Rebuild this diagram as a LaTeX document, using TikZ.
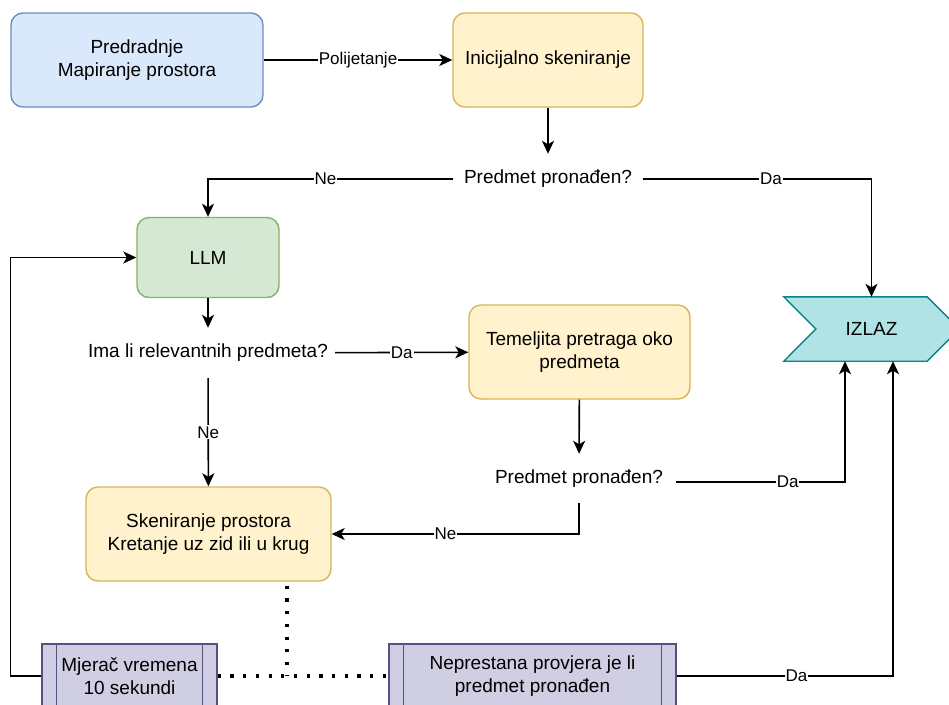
\documentclass[tikz,border=0pt]{standalone}
\usepackage{fontspec}
\setmainfont{Liberation Sans}
\usetikzlibrary{arrows.meta,calc}
\definecolor{blueF}{HTML}{DAE8FC}\definecolor{blueD}{HTML}{6C8EBF}
\definecolor{yelF}{HTML}{FFF2CC}\definecolor{yelD}{HTML}{D6B656}
\definecolor{grnF}{HTML}{D5E8D4}\definecolor{grnD}{HTML}{82B366}
\definecolor{purF}{HTML}{D0CEE2}\definecolor{purD}{HTML}{56517E}
\definecolor{tealF}{HTML}{B0E3E6}\definecolor{tealD}{HTML}{0E8088}
\begin{document}
\begin{tikzpicture}[x=1pt,y=-1pt,
  every node/.style={font=\fontsize{19}{23}\selectfont, inner sep=0pt, align=center},
  box/.style={draw, rounded corners=12pt, line width=1.4pt},
  proc/.style={draw, line width=1.4pt},
  txt/.style={minimum height=50pt},
  lbl/.style={font=\fontsize{17}{20}\selectfont, fill=white, inner sep=1pt},
  arr/.style={line width=1.6pt, -{Stealth[length=13pt,width=12pt,inset=3.5pt]}},
  dotln/.style={line width=3.2pt, dash pattern=on 3.2pt off 9.5pt}]
\path[fill=white] (0,0) rectangle (949,704);
\clip (0,0) rectangle (949,704);

\node[box, fill=blueF, draw=blueD, minimum width=252pt, minimum height=94pt] (pre) at (137,60) {Predradnje\\Mapiranje prostora};
\node[box, fill=yelF, draw=yelD, minimum width=190pt, minimum height=94pt] (ini) at (548,60) {Inicijalno skeniranje};
\node[txt, minimum width=190pt] (q1) at (548,179) {Predmet pronađen?};
\node[box, fill=grnF, draw=grnD, minimum width=142pt, minimum height=80pt] (llm) at (208,257.5) {LLM};
\node[txt, minimum width=254pt] (q2) at (208,353) {Ima li relevantnih predmeta?};
\node[box, fill=yelF, draw=yelD, minimum width=221pt, minimum height=94pt] (tem) at (579.5,352) {Temeljita pretraga oko\\predmeta};
\node[txt, minimum width=194pt, minimum height=49pt] (q3) at (579,478.5) {Predmet pronađen?};
\node[box, fill=yelF, draw=yelD, minimum width=245pt, minimum height=94pt] (sken) at (208.5,534) {Skeniranje prostora\\Kretanje uz zid ili u krug};
\node[proc, fill=purF, draw=purD, minimum width=175pt, minimum height=64pt] (mj) at (129.5,676) {Mjerač vremena\\10 sekundi};
\draw[line width=1.4pt, purD] ([xshift=15pt]mj.north west) -- ([xshift=15pt]mj.south west);
\draw[line width=1.4pt, purD] ([xshift=-15pt]mj.north east) -- ([xshift=-15pt]mj.south east);
\node[proc, fill=purF, draw=purD, minimum width=287pt, minimum height=64pt] (nep) at (532.5,676) {Neprestana provjera je li\\predmet pronađen};
\draw[line width=1.4pt, purD] ([xshift=15pt]nep.north west) -- ([xshift=15pt]nep.south west);
\draw[line width=1.4pt, purD] ([xshift=-15pt]nep.north east) -- ([xshift=-15pt]nep.south east);
\node[minimum width=175pt, minimum height=64pt] (izlaz) at (871.5,329) {};
\draw[line width=1.4pt, draw=tealD, fill=tealF] (izlaz.north west) -- ([xshift=-32pt]izlaz.north east) -- (izlaz.east) -- ([xshift=-32pt]izlaz.south east) -- (izlaz.south west) -- ([xshift=32pt]izlaz.west) -- cycle;
\node at (izlaz.center) {IZLAZ};

\draw[arr] (pre) -- node[lbl]{Polijetanje} (ini);
\draw[arr] (ini) -- (q1);
\draw[arr] (q1.west) -| node[lbl,pos=0.26]{Ne} (llm.north);
\draw[arr] (q1.east) -| node[lbl,pos=0.28]{Da} (izlaz.north);
\draw[arr] (llm) -- (q2);
\draw[arr] (q2) -- node[lbl]{Da} (tem);
\draw[arr] (q2) -- node[lbl]{Ne} (sken);
\draw[arr] (tem) -- (q3);
\draw[arr] ($(q3.east)+(0,3.5)$) -| node[lbl,pos=0.33]{Da} ([xshift=-26.5pt]izlaz.south);
\draw[arr] (q3.south) |- node[lbl,pos=0.77]{Ne} (sken.east);
\draw[arr] (mj.west) -- ++(-31,0) |- (llm.west);
\draw[arr] (nep.east) -| node[lbl,pos=0.277]{Da} ([xshift=21.5pt]izlaz.south);

\coordinate (dj) at (287,676);
\draw[dotln] ([xshift=78.5pt,yshift=-4pt]sken.south) -- (dj);
\draw[dotln] (mj.east) -- (nep.west);
\end{tikzpicture}
\end{document}
